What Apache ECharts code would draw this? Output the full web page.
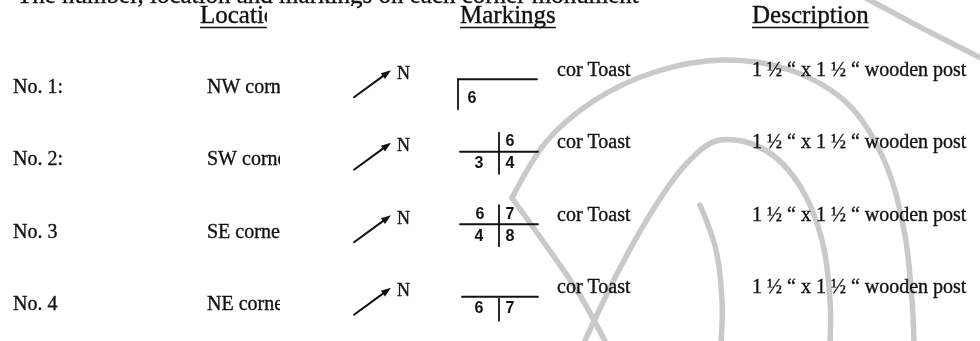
<!DOCTYPE html>
<html>
<head>
<meta charset="utf-8">
<script src="https://cdn.jsdelivr.net/npm/echarts@6/dist/echarts.min.js"></script>
<style>
  html, body { margin: 0; padding: 0; background: #fff; }
  #main { width: 980px; height: 341px; }
</style>
</head>
<body>
<div id="main"></div>
<script>
// table content, one entry per corner monument
const rowLabels = ['No. 1:', 'No. 2:', 'No. 3', 'No. 4']
const locations = ['NW corner', 'SW corner', 'SE corner', 'NE corner']
const monuments = ['cor Toast', 'cor Toast', 'cor Toast', 'cor Toast']
const descriptions = [
    '1 \u00BD \u201C x 1 \u00BD \u201C wooden post',
    '1 \u00BD \u201C x 1 \u00BD \u201C wooden post',
    '1 \u00BD \u201C x 1 \u00BD \u201C wooden post',
    '1 \u00BD \u201C x 1 \u00BD \u201C wooden post'
]
// hand drawn markings: shape of the lines and the digit in each quadrant
const markShapes = ['corner', 'cross', 'cross', 'tee']
const markTL = ['', '', '6', '']
const markTR = ['', '6', '7', '']
const markBL = ['', '3', '4', '6']
const markBR = ['6', '4', '8', '7']
const headers = ['Location', 'Markings', 'Description']
const introText = 'The number, location and markings on each corner monument'

const SERIF = '"Liberation Serif", "Times New Roman", serif'
const HAND = '"Liberation Sans", "DejaVu Sans", sans-serif'
const INK = '#111'
const GREY = '#c9c9c9'

const measure = (str, font) => {
    const ctx = document.createElement('canvas').getContext('2d')
    ctx.font = font
    return ctx.measureText(str).width
}

const chart = echarts.init(document.getElementById('main'))

// scanned print looks a little heavier than the plain font, so add a thin outline
function txt(x, y, str, font, align, heavy) {
    return {
        type: 'text',
        x: x,
        y: y,
        style: {
            text: str,
            fill: INK,
            font: font,
            align: align || 'left',
            verticalAlign: 'middle',
            stroke: heavy === false ? null : INK,
            lineWidth: 0.35
        }
    }
}

function seg(x1, y1, x2, y2, w) {
    return {
        type: 'line',
        shape: { x1: x1, y1: y1, x2: x2, y2: y2 },
        style: { stroke: INK, lineWidth: w || 1.8, lineCap: 'round' }
    }
}

function renderRow(params, api) {
    const i = api.value(1)
    const y = api.coord([0, i])[1]
    const body = '20px ' + SERIF
    const hand = 'bold 16px ' + HAND
    const kids = []

    kids.push(txt(13, y, rowLabels[i], body))
    kids.push(txt(207, y, locations[i], body))
    // the location column is cut off on the scan
    kids.push({ type: 'rect', shape: { x: 280, y: y - 16, width: 65, height: 32 }, style: { fill: '#fff' } })

    // north arrow
    const tx = 354, ty = y + 10, hx = 391, hy = y - 17
    const len = Math.hypot(hx - tx, hy - ty)
    const ux = (hx - tx) / len, uy = (hy - ty) / len
    const bx = hx - ux * 10, by = hy - uy * 10
    kids.push(seg(tx, ty, bx, by, 2))
    kids.push({
        type: 'polygon',
        shape: { points: [[hx, hy], [bx - uy * 3.5, by + ux * 3.5], [bx + uy * 3.5, by - ux * 3.5]] },
        style: { fill: INK }
    })
    kids.push(txt(397, y - 13, 'N', '18px ' + SERIF))

    // markings
    const ly = y - 8
    const shape = markShapes[i]
    if (shape === 'corner') {
        kids.push(seg(458, ly, 537, ly))
        kids.push(seg(458, ly, 458, ly + 30))
        kids.push(txt(472, ly + 19, markBR[i], hand, 'center', false))
    } else {
        const vx = 499
        kids.push(seg(shape === 'cross' ? 460 : 462, ly, 538, ly))
        if (shape === 'cross') kids.push(seg(vx, ly - 19, vx, ly + 22))
        else kids.push(seg(vx, ly + 2, vx, ly + 24))
        const q = [[markTL[i], vx - 19, ly - 10], [markTR[i], vx + 11, ly - 10],
                   [markBL[i], vx - 20, ly + 12], [markBR[i], vx + 11, ly + 12]]
        q.forEach(d => {
            if (d[0]) kids.push(txt(d[1], d[2], d[0], hand, 'center', false))
        })
    }

    kids.push(txt(557, y - 17, monuments[i], body))
    kids.push(txt(752, y - 17, descriptions[i], body))

    return { type: 'group', children: kids }
}

// header row with underlines
const headerX = [200, 460, 752]
const headerFont = '25px ' + SERIF
const headerEls = []
headers.forEach((h, k) => {
    const w = measure(h, headerFont)
    const t = txt(headerX[k], 16, h, headerFont)
    t.z = 3
    headerEls.push(t)
    headerEls.push({ type: 'line', z: 3, shape: { x1: headerX[k], y1: 27.5, x2: headerX[k] + w, y2: 27.5 }, style: { stroke: INK, lineWidth: 1.6 } })
})
headerEls.push({
    type: 'rect', z: 4,
    shape: { x: headerX[0] + measure('Locati', headerFont) + 3, y: 6, width: 90, height: 26 },
    style: { fill: '#fff' }
})
const intro = txt(17, -4, introText, '25px ' + SERIF)
intro.z = 3

// faint seal stamp bleeding through the scan
const stamp = [
    [[512, 198], [546, 142], [595, 100], [655, 72], [722, 60], [790, 70], [848, 104], [884, 160], [904, 230], [912, 300], [914, 345]],
    [[512, 198], [545, 244], [578, 292], [607, 345]],
    [[583, 345], [620, 268], [656, 205], [688, 162], [720, 140], [765, 150], [800, 186], [822, 240], [830, 300], [830, 345]],
    [[700, 205], [716, 250], [722, 300], [721, 345]],
    [[866, -2], [922, 28], [985, 60]]
]
const stampEls = stamp.map(p => ({
    type: 'polyline', z: 0, silent: true,
    shape: { points: p, smooth: 0.35 },
    style: { stroke: GREY, lineWidth: 5.5, fill: null, lineCap: 'round' }
}))

const option = {
    animation: false,
    grid: { left: 0, right: 0, top: 51, height: 295.2 },
    xAxis: { type: 'value', min: 0, max: 980, show: false },
    yAxis: { type: 'category', data: rowLabels, inverse: true, show: false },
    graphic: {
        elements: stampEls.concat([intro]).concat(headerEls)
    },
    series: [{
        type: 'custom',
        z: 5,
        clip: false,
        renderItem: renderRow,
        data: rowLabels.map((r, i) => [0, i])
    }]
}
chart.setOption(option)
window.addEventListener('resize', () => {
    chart.resize()
})
</script>
</body>
</html>
